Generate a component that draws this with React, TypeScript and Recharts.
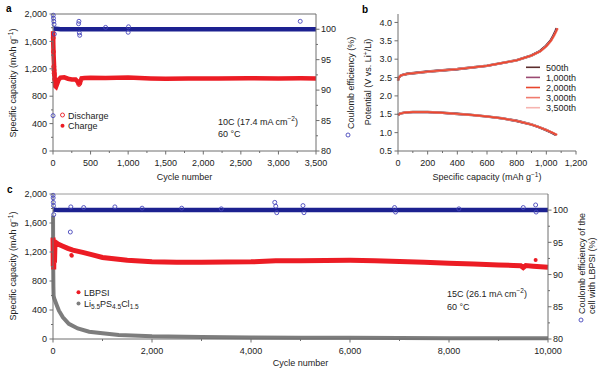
import React from 'react';
import { ComposedChart, LineChart, Line, Scatter, XAxis, YAxis, ReferenceLine } from 'recharts';

const FONT = '"Liberation Sans", Arial, sans-serif';
const AXIS = '#6e6e6e';
const TXT = '#222';
const RED = '#ec1c24';
const NAVY = '#1c2190';
const BLUE_O = '#4545bb';
const GRAY = '#7d7d7d';

// panel a - 10C cycling, cycles vs capacity (mAh/g) and CE (%)
const cycA = [1, 4, 8, 12, 16, 20, 25, 30, 40, 55, 75, 100, 150, 200, 250, 300, 330, 345, 360, 380, 420, 500, 700, 1000, 1300, 1500, 1800, 2200, 2600, 3000, 3300, 3500];
const chargeA = [1750, 1550, 1400, 1300, 1200, 1120, 1000, 945, 935, 980, 1040, 1070, 1075, 1055, 1045, 1045, 1010, 990, 1000, 1060, 1065, 1070, 1065, 1072, 1060, 1055, 1060, 1060, 1062, 1060, 1062, 1060];
const dischOutCycA = [3, 6, 9, 12, 15, 18, 22, 335, 345, 355];
const dischOutA = [1650, 1450, 1230, 1180, 1135, 1110, 1050, 995, 970, 985];
const ceCycA = [5, 100, 500, 1000, 1500, 2000, 2500, 3000, 3500];
const ceA = [100.1, 100, 100, 100, 100, 100, 100, 100, 100];
const ceOutCycA = [1, 3, 6, 10, 14, 18, 340, 345, 350, 355, 700, 1000, 1005, 3290];
const ceOutA = [85.8, 102.3, 101.8, 101.3, 100.8, 99.2, 100.9, 101.3, 99.4, 99.0, 100.3, 99.5, 100.4, 101.3];

// panel b - voltage profiles
const chargeV = [2.42, 2.5, 2.56, 2.6, 2.66, 2.73, 2.82, 2.97, 3.1, 3.22, 3.36, 3.5, 3.64, 3.76, 3.84];
const dischV = [1.48, 1.52, 1.55, 1.56, 1.56, 1.54, 1.51, 1.48, 1.44, 1.39, 1.32, 1.22, 1.15, 1.07, 1.0, 0.94];
const chgQ500 = [0, 5, 20, 60, 200, 400, 600, 800, 900, 958, 998, 1028, 1048, 1062, 1070];
const chgQ1000 = [0, 5, 20, 60, 200, 400, 600, 800, 900, 960, 1000, 1030, 1050, 1064, 1073];
const chgQ2000 = [0, 5, 20, 60, 200, 400, 600, 800, 900, 961, 1001, 1031, 1051, 1066, 1075];
const chgQ3000 = [0, 5, 20, 60, 200, 400, 600, 800, 901, 962, 1002, 1032, 1052, 1067, 1076];
const chgQ3500 = [0, 5, 20, 60, 200, 400, 600, 800, 902, 963, 1003, 1033, 1054, 1069, 1078];
const disQ500 = [0, 15, 50, 100, 200, 300, 400, 500, 600, 700, 800, 900, 950, 998, 1036, 1064];
const disQ1000 = [0, 15, 50, 100, 200, 300, 400, 500, 600, 700, 800, 900, 950, 1000, 1039, 1068];
const disQ2000 = [0, 15, 50, 100, 200, 300, 400, 500, 600, 700, 800, 900, 951, 1001, 1041, 1071];
const disQ3000 = [0, 15, 50, 100, 200, 300, 400, 500, 600, 700, 800, 901, 952, 1002, 1042, 1072];
const disQ3500 = [0, 15, 50, 100, 200, 300, 400, 500, 600, 700, 801, 902, 953, 1003, 1044, 1075];
const cycleNames = ['500th', '1,000th', '2,000th', '3,000th', '3,500th'];
const cycleColors = ['#5b2c2c', '#9b4a72', '#e8452c', '#f07b6e', '#f6b4b0'];

// panel c - 15C cycling, 10,000 cycles
const cycC = [1, 5, 10, 15, 20, 30, 40, 60, 100, 200, 300, 400, 600, 800, 1000, 1500, 2000, 2500, 3000, 3500, 4000, 4500, 5000, 5500, 6000, 6500, 7000, 7500, 8000, 8500, 9000, 9300, 9450, 9500, 9550, 9700, 10000];
const lbpsiC = [1400, 1000, 1350, 960, 1300, 1050, 1320, 1330, 1310, 1280, 1250, 1225, 1195, 1160, 1125, 1085, 1065, 1060, 1060, 1062, 1064, 1078, 1080, 1083, 1085, 1080, 1068, 1058, 1045, 1035, 1022, 1015, 1010, 985, 1012, 1005, 990];
const redOutCycC = [370, 380, 9750];
const redOutC = [1160, 1150, 1088];
const cycGray = [1, 3, 5, 8, 12, 20, 40, 80, 120, 200, 320, 500, 730, 1000, 1330, 2000, 3000, 4000, 5000, 6000, 7000, 8000, 9000, 10000];
const lpscC = [1700, 1250, 950, 720, 600, 570, 530, 460, 390, 300, 210, 145, 100, 78, 56, 38, 28, 22, 18, 16, 14, 12, 11, 10];
const ceCycC = [5, 100, 1000, 2000, 3000, 4000, 5000, 6000, 7000, 8000, 9000, 10000];
const ceC = [100.1, 100, 100, 100, 100, 100, 100, 100, 100, 100, 100, 100];
const ceOutCycC = [1, 3, 6, 10, 14, 350, 360, 620, 1250, 1800, 2600, 3400, 4480, 4500, 4520, 5050, 5070, 6900, 6920, 8200, 9500, 9750, 9760];
const ceOutC = [102.3, 101.9, 101.2, 100.7, 99.3, 96.6, 100.5, 100.4, 100.5, 100.3, 100.3, 100.2, 101.2, 100.6, 99.6, 100.7, 99.6, 100.4, 99.7, 100.2, 100.4, 100.8, 99.7];

// ticks
const xTicksA = [0, 250, 500, 750, 1000, 1250, 1500, 1750, 2000, 2250, 2500, 2750, 3000, 3250, 3500];
const xMajA = [0, 500, 1000, 1500, 2000, 2500, 3000, 3500];
const capTicks = [0, 200, 400, 600, 800, 1000, 1200, 1400, 1600, 1800, 2000];
const capMaj = [0, 400, 800, 1200, 1600, 2000];
const ceTicks = [80, 82.5, 85, 87.5, 90, 92.5, 95, 97.5, 100];
const ceMaj = [80, 85, 90, 95, 100];
const qTicks = [0, 100, 200, 300, 400, 500, 600, 700, 800, 900, 1000, 1100, 1200];
const qMaj = [0, 200, 400, 600, 800, 1000, 1200];
const vTicks = [0.5, 1.0, 1.5, 2.0, 2.5, 3.0, 3.5, 4.0];
const xTicksC = [0, 1000, 2000, 3000, 4000, 5000, 6000, 7000, 8000, 9000, 10000];
const xMajC = [0, 2000, 4000, 6000, 8000, 10000];

const pts = (xs: number[], ys: number[]) => xs.map((c, i) => ({ cycle: c, val: ys[i] }));
const prof = (qs: number[], vs: number[]) => qs.map((q, i) => ({ q, v: vs[i] }));
const comma = (v: number) => v.toLocaleString('en-US');
const one = (v: number) => v.toFixed(1);

function makeTick(side: 'left' | 'right' | 'bottom', majors: number[], fmt: (v: number) => string) {
  return (props: any) => {
    const { x, y, payload } = props;
    const v = payload.value;
    const major = majors.includes(v);
    const len = major ? 3.5 : 2;
    const t = { fontSize: 9, fill: TXT, fontFamily: FONT };
    if (side === 'bottom') {
      return (
        <g>
          <line x1={x} x2={x} y1={y} y2={y + len} stroke={AXIS} />
          {major && <text x={x} y={y + 15} textAnchor="middle" {...t}>{fmt(v)}</text>}
        </g>
      );
    }
    if (side === 'left') {
      return (
        <g>
          <line x1={x - len} x2={x} y1={y} y2={y} stroke={AXIS} />
          {major && <text x={x - 6} y={y + 3.2} textAnchor="end" {...t}>{fmt(v)}</text>}
        </g>
      );
    }
    return (
      <g>
        <line x1={x} x2={x + len} y1={y} y2={y} stroke={AXIS} />
        {major && <text x={x + 5} y={y + 3.2} textAnchor="start" {...t}>{fmt(v)}</text>}
      </g>
    );
  };
}

const axisProps = { tickLine: false, tickSize: 0, tickMargin: 0, interval: 0 as const, axisLine: { stroke: AXIS } };

const openDot = (color: string) => (p: any) => <circle cx={p.cx} cy={p.cy} r={2} fill="none" stroke={color} strokeWidth={0.9} />;
const fullDot = (color: string) => (p: any) => <circle cx={p.cx} cy={p.cy} r={2} fill={color} />;

function PanelA() {
  return (
    <ComposedChart width={360} height={190} margin={{ top: 14, right: 0, bottom: 0, left: 0 }}>
      <XAxis dataKey="cycle" type="number" domain={[0, 3500]} ticks={xTicksA} height={39} tick={makeTick('bottom', xMajA, comma)} {...axisProps} />
      <YAxis yAxisId="l" type="number" domain={[0, 2000]} ticks={capTicks} width={53} tick={makeTick('left', capMaj, comma)} {...axisProps} />
      <YAxis yAxisId="r" orientation="right" type="number" domain={[80, 102.5]} ticks={ceTicks} width={44} tick={makeTick('right', ceMaj, String)} {...axisProps} />
      <ReferenceLine yAxisId="l" y={2000} stroke={AXIS} />
      <Scatter yAxisId="l" data={pts(dischOutCycA, dischOutA)} dataKey="val" shape={openDot(RED)} isAnimationActive={false} />
      <Line yAxisId="l" data={pts(cycA, chargeA)} dataKey="val" stroke={RED} strokeWidth={4.5} dot={false} isAnimationActive={false} />
      <Line yAxisId="r" data={pts(ceCycA, ceA)} dataKey="val" stroke={NAVY} strokeWidth={4.5} dot={false} isAnimationActive={false} />
      <Scatter yAxisId="r" data={pts(ceOutCycA, ceOutA)} dataKey="val" shape={openDot(BLUE_O)} isAnimationActive={false} />
    </ComposedChart>
  );
}

function PanelB() {
  const chg = [chgQ500, chgQ1000, chgQ2000, chgQ3000, chgQ3500];
  const dis = [disQ500, disQ1000, disQ2000, disQ3000, disQ3500];
  const order = [0, 1, 4, 3, 2];
  const widths = [2.6, 2.2, 1.4, 1.8, 2.0];
  return (
    <LineChart width={230} height={190} margin={{ top: 14, right: 24, bottom: 0, left: 0 }}>
      <XAxis dataKey="q" type="number" domain={[0, 1200]} ticks={qTicks} height={39} tick={makeTick('bottom', qMaj, comma)} {...axisProps} />
      <YAxis type="number" domain={[0.5, 4.23]} ticks={vTicks} width={28} tick={makeTick('left', vTicks, one)} allowDataOverflow {...axisProps} />
      {order.map((i) => (
        <Line key={'c' + i} data={prof(chg[i], chargeV)} dataKey="v" name={cycleNames[i]} stroke={cycleColors[i]} strokeWidth={widths[i]} dot={false} isAnimationActive={false} />
      ))}
      {order.map((i) => (
        <Line key={'d' + i} data={prof(dis[i], dischV)} dataKey="v" name={cycleNames[i]} stroke={cycleColors[i]} strokeWidth={widths[i]} dot={false} isAnimationActive={false} />
      ))}
    </LineChart>
  );
}

function PanelC() {
  return (
    <ComposedChart width={600} height={199} margin={{ top: 14, right: 0, bottom: 0, left: 0 }}>
      <XAxis dataKey="cycle" type="number" domain={[0, 10000]} ticks={xTicksC} height={40} tick={makeTick('bottom', xMajC, comma)} {...axisProps} />
      <YAxis yAxisId="l" type="number" domain={[0, 2000]} ticks={capTicks} width={53} tick={makeTick('left', capMaj, comma)} {...axisProps} />
      <YAxis yAxisId="r" orientation="right" type="number" domain={[80, 102.5]} ticks={ceTicks} width={52} tick={makeTick('right', ceMaj, String)} {...axisProps} />
      <ReferenceLine yAxisId="l" y={2000} stroke="#9a9a9a" />
      <Line yAxisId="l" data={pts(cycGray, lpscC)} dataKey="val" stroke={GRAY} strokeWidth={4} dot={false} isAnimationActive={false} />
      <Line yAxisId="l" data={pts(cycC, lbpsiC)} dataKey="val" stroke={RED} strokeWidth={5} dot={false} isAnimationActive={false} />
      <Scatter yAxisId="l" data={pts(redOutCycC, redOutC)} dataKey="val" shape={fullDot(RED)} isAnimationActive={false} />
      <Line yAxisId="r" data={pts(ceCycC, ceC)} dataKey="val" stroke={NAVY} strokeWidth={4.5} dot={false} isAnimationActive={false} />
      <Scatter yAxisId="r" data={pts(ceOutCycC, ceOutC)} dataKey="val" shape={openDot(BLUE_O)} isAnimationActive={false} />
    </ComposedChart>
  );
}

const sup = (s: string) => (
  <>
    <tspan dy={-3.2} fontSize={6.5}>{s}</tspan>
    <tspan dy={3.2}>)</tspan>
  </>
);

function Overlay() {
  const t = { fontSize: 9, fill: TXT, fontFamily: FONT };
  return (
    <svg width={600} height={379} style={{ position: 'absolute', left: 0, top: 0, pointerEvents: 'none' }}>
      <text x={6} y={12} fontSize={10} fontWeight="bold" fontFamily={FONT}>a</text>
      <text x={362} y={13} fontSize={10} fontWeight="bold" fontFamily={FONT}>b</text>
      <text x={7} y={193} fontSize={10} fontWeight="bold" fontFamily={FONT}>c</text>

      {/* panel a */}
      <text transform="translate(16,83) rotate(-90)" textAnchor="middle" {...t}>Specific capacity (mAh g{sup('−1')}</text>
      <text x={184.5} y={180} textAnchor="middle" {...t}>Cycle number</text>
      <circle cx={348} cy={135} r={2} fill="none" stroke={BLUE_O} strokeWidth={0.9} />
      <text transform="translate(354,129) rotate(-90)" textAnchor="start" {...t}>Coulomb efficiency (%)</text>
      <circle cx={62.5} cy={115} r={2} fill="none" stroke={RED} strokeWidth={0.9} />
      <text x={68} y={118.5} {...t}>Discharge</text>
      <circle cx={62.5} cy={125.7} r={2} fill={RED} />
      <text x={68} y={129} {...t}>Charge</text>
      <text x={218} y={124.5} {...t}>10C (17.4 mA cm{sup('−2')}</text>
      <text x={218} y={136.5} {...t}>60 °C</text>

      {/* panel b */}
      <text transform="translate(371,82) rotate(-90)" textAnchor="middle" {...t}>
        Potential (V vs. Li<tspan dy={-3.2} fontSize={6.5}>+</tspan><tspan dy={3.2}>/Li)</tspan>
      </text>
      <text x={487} y={180} textAnchor="middle" {...t}>Specific capacity (mAh g{sup('−1')}</text>
      {cycleNames.map((n, i) => (
        <g key={n}>
          <line x1={526} x2={540} y1={67.3 + i * 10.1} y2={67.3 + i * 10.1} stroke={cycleColors[i]} strokeWidth={1.6} />
          <text x={546} y={70.5 + i * 10.1} {...t}>{n}</text>
        </g>
      ))}

      {/* panel c */}
      <text transform="translate(16,266) rotate(-90)" textAnchor="middle" {...t}>Specific capacity (mAh g{sup('−1')}</text>
      <text x={300.5} y={366} textAnchor="middle" {...t}>Cycle number</text>
      <circle cx={581} cy={320} r={2} fill="none" stroke={BLUE_O} strokeWidth={0.9} />
      <text transform="translate(584.5,314) rotate(-90)" textAnchor="start" {...t}>Coulomb efficiency of the</text>
      <text transform="translate(595,314) rotate(-90)" textAnchor="start" {...t}>cell with LBPSI (%)</text>
      <circle cx={78.5} cy={292.3} r={2} fill={RED} />
      <text x={84} y={295.6} {...t}>LBPSI</text>
      <circle cx={78.5} cy={303.5} r={2} fill={GRAY} />
      <text x={84} y={306.8} {...t}>
        Li<tspan dy={2.5} fontSize={6.5}>5.5</tspan><tspan dy={-2.5}>PS</tspan><tspan dy={2.5} fontSize={6.5}>4.5</tspan><tspan dy={-2.5}>Cl</tspan><tspan dy={2.5} fontSize={6.5}>1.5</tspan>
      </text>
      <text x={447} y={296.5} {...t}>15C (26.1 mA cm{sup('−2')}</text>
      <text x={447} y={309.5} {...t}>60 °C</text>
    </svg>
  );
}

export default function App() {
  return (
    <div style={{ position: 'absolute', left: 0, top: 0, width: 600, height: 379, background: '#fff', fontFamily: FONT }}>
      <div style={{ position: 'absolute', left: 0, top: 0 }}><PanelA /></div>
      <div style={{ position: 'absolute', left: 370, top: 0 }}><PanelB /></div>
      <div style={{ position: 'absolute', left: 0, top: 180 }}><PanelC /></div>
      <Overlay />
    </div>
  );
}
